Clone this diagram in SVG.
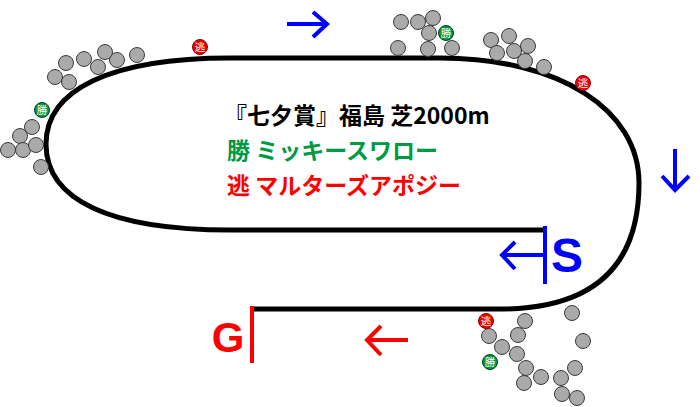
<svg xmlns="http://www.w3.org/2000/svg" width="700" height="407" viewBox="0 0 700 407">
<style>
.h{fill:#aaaaaa;stroke:#3a3a3a;stroke-width:1}
.mr{fill:#ee0000;stroke:#8a0000;stroke-width:1}
.mg{fill:#009944;stroke:#00401c;stroke-width:1}
.mt{fill:#ffffff;font-family:"Noto Sans CJK JP",sans-serif;font-size:10.5px;text-anchor:middle}
.t{font-family:"Noto Sans CJK JP","Noto Sans",sans-serif;font-weight:bold;font-size:23px}
.big{font-family:"Liberation Sans",Arial,sans-serif;font-weight:bold}
</style>
<rect width="700" height="407" fill="#ffffff"/>
<g id="connectors">
<path id="track" d="M543 230 L230 230 C110 230 46 200 46 144 C46 90 110 58 230 58 L440 58 C560 58 639 110 639 183 C639 260 600 309 500 309 L253 309" fill="none" stroke="#000" stroke-width="5"/>
<g fill="none" stroke="#0000ff" stroke-width="4" stroke-linecap="butt">
<path d="M287 24 L328 24 M313 12 L327 24 L313 37"/>
<path d="M675 149 L675 190 M662 176 L675 190 L689 176"/>
<path d="M544 255 L502 255 M515 242 L502 255 L515 269"/>
</g>
<line x1="545" y1="226" x2="545" y2="284" stroke="#0000ff" stroke-width="4"/>
<g fill="none" stroke="#ff0000" stroke-width="4">
<path d="M408 340 L367 340 M381 326 L367 340 L381 355"/>
</g>
<line x1="252" y1="306" x2="252" y2="363" stroke="#ff0000" stroke-width="4"/>
</g>
<g id="labels">
<text class="big" x="567" y="272" font-size="48" fill="#0000ff" text-anchor="middle">S</text>
<text class="big" x="228" y="352" font-size="42" fill="#ff0000" text-anchor="middle">G</text>
<text class="t" x="224" y="124" fill="#000" font-size="22.5">『七夕賞』福島 芝2000m</text>
<text class="t" x="227" y="159" fill="#009944" xml:space="preserve">勝 ミッキースワロー</text>
<text class="t" x="227" y="194" fill="#ff0000" xml:space="preserve">逃 マルターズアポジー</text>
</g>
<g id="horses-topleft">
<circle class="h" cx="137" cy="55" r="7.5"/>
<circle class="h" cx="117" cy="60" r="7.5"/>
<circle class="h" cx="105" cy="52" r="7.5"/>
<circle class="h" cx="98" cy="67" r="7.5"/>
<circle class="h" cx="84" cy="59" r="7.5"/>
<circle class="h" cx="66" cy="63" r="7.5"/>
<circle class="h" cx="55" cy="77" r="7.5"/>
<circle class="h" cx="69" cy="82" r="7.5"/>
<circle class="h" cx="32" cy="127" r="7.5"/>
<circle class="h" cx="20" cy="136" r="7.5"/>
<circle class="h" cx="8" cy="150" r="7.5"/>
<circle class="h" cx="23" cy="150" r="7.5"/>
<circle class="h" cx="36" cy="145" r="7.5"/>
<circle class="h" cx="41" cy="167" r="7.5"/>
</g>
<g id="marker-nige-1"><circle class="mr" cx="200" cy="47" r="7.5"/><text class="mt" x="200" y="51">逃</text></g>
<g id="marker-kachi-1"><circle class="mg" cx="42" cy="110" r="7.5"/><text class="mt" x="42" y="114">勝</text></g>
<g id="horses-topright">
<circle class="h" cx="401" cy="22" r="7.5"/>
<circle class="h" cx="418" cy="22" r="7.5"/>
<circle class="h" cx="433" cy="18" r="7.5"/>
<circle class="h" cx="429" cy="33" r="7.5"/>
<circle class="h" cx="398" cy="48" r="7.5"/>
<circle class="h" cx="428" cy="49" r="7.5"/>
<circle class="h" cx="452" cy="48" r="7.5"/>
<circle class="h" cx="491" cy="40" r="7.5"/>
<circle class="h" cx="509" cy="36" r="7.5"/>
<circle class="h" cx="528" cy="46" r="7.5"/>
<circle class="h" cx="497" cy="53" r="7.5"/>
<circle class="h" cx="514" cy="51" r="7.5"/>
<circle class="h" cx="525" cy="61" r="7.5"/>
<circle class="h" cx="544" cy="67" r="7.5"/>
</g>
<g id="marker-kachi-2"><circle class="mg" cx="446" cy="33" r="7.5"/><text class="mt" x="446" y="37">勝</text></g>
<g id="marker-nige-2"><circle class="mr" cx="583" cy="83" r="7.5"/><text class="mt" x="583" y="87">逃</text></g>
<g id="horses-bottom">
<circle class="h" cx="525" cy="321" r="7.5"/>
<circle class="h" cx="572" cy="313" r="7.5"/>
<circle class="h" cx="489" cy="336" r="7.5"/>
<circle class="h" cx="518" cy="335" r="7.5"/>
<circle class="h" cx="583" cy="341" r="7.5"/>
<circle class="h" cx="502" cy="347" r="7.5"/>
<circle class="h" cx="517" cy="354" r="7.5"/>
<circle class="h" cx="526" cy="368" r="7.5"/>
<circle class="h" cx="575" cy="368" r="7.5"/>
<circle class="h" cx="541" cy="377" r="7.5"/>
<circle class="h" cx="561" cy="378" r="7.5"/>
<circle class="h" cx="524" cy="383" r="7.5"/>
<circle class="h" cx="562" cy="394" r="7.5"/>
<circle class="h" cx="577" cy="398" r="7.5"/>
</g>
<g id="marker-nige-3"><circle class="mr" cx="486" cy="321" r="7.5"/><text class="mt" x="486" y="325">逃</text></g>
<g id="marker-kachi-3"><circle class="mg" cx="490" cy="362" r="7.5"/><text class="mt" x="490" y="366">勝</text></g>
</svg>
